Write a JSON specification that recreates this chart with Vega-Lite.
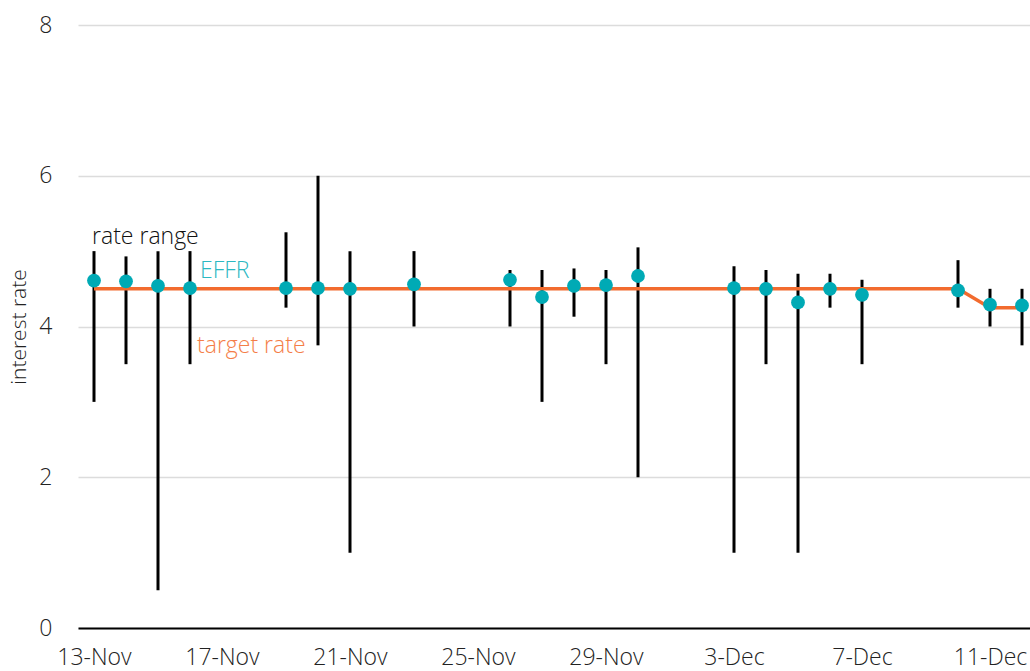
{
  "$schema": "https://vega.github.io/schema/vega-lite/v6.json",
  "autosize": {"type": "none"},
  "width": 952,
  "height": 603,
  "padding": {"left": 78, "top": 25, "right": 0, "bottom": 43},
  "background": "white",
  "config": {
    "view": {"stroke": null},
    "font": "Open Sans",
    "axis": {"labelFont": "Open Sans", "titleFont": "Open Sans", "labelColor": "#222222", "titleColor": "#222222", "labelFontWeight": 300, "titleFontWeight": 300}
  },
  "datasets": {
    "rates": [
      {"date": "2007-11-13", "low": 3.0, "high": 5.0, "effr": 4.61, "target": 4.5},
      {"date": "2007-11-14", "low": 3.5, "high": 4.93, "effr": 4.60, "target": 4.5},
      {"date": "2007-11-15", "low": 0.5, "high": 5.0, "effr": 4.54, "target": 4.5},
      {"date": "2007-11-16", "low": 3.5, "high": 5.0, "effr": 4.51, "target": 4.5},
      {"date": "2007-11-19", "low": 4.25, "high": 5.25, "effr": 4.51, "target": 4.5},
      {"date": "2007-11-20", "low": 3.75, "high": 6.0, "effr": 4.51, "target": 4.5},
      {"date": "2007-11-21", "low": 1.0, "high": 5.0, "effr": 4.50, "target": 4.5},
      {"date": "2007-11-23", "low": 4.0, "high": 5.0, "effr": 4.56, "target": 4.5},
      {"date": "2007-11-26", "low": 4.0, "high": 4.75, "effr": 4.62, "target": 4.5},
      {"date": "2007-11-27", "low": 3.0, "high": 4.75, "effr": 4.39, "target": 4.5},
      {"date": "2007-11-28", "low": 4.13, "high": 4.77, "effr": 4.54, "target": 4.5},
      {"date": "2007-11-29", "low": 3.5, "high": 4.75, "effr": 4.55, "target": 4.5},
      {"date": "2007-11-30", "low": 2.0, "high": 5.05, "effr": 4.67, "target": 4.5},
      {"date": "2007-12-03", "low": 1.0, "high": 4.8, "effr": 4.51, "target": 4.5},
      {"date": "2007-12-04", "low": 3.5, "high": 4.75, "effr": 4.50, "target": 4.5},
      {"date": "2007-12-05", "low": 1.0, "high": 4.7, "effr": 4.32, "target": 4.5},
      {"date": "2007-12-06", "low": 4.25, "high": 4.7, "effr": 4.50, "target": 4.5},
      {"date": "2007-12-07", "low": 3.5, "high": 4.62, "effr": 4.42, "target": 4.5},
      {"date": "2007-12-10", "low": 4.25, "high": 4.88, "effr": 4.48, "target": 4.5},
      {"date": "2007-12-11", "low": 4.0, "high": 4.5, "effr": 4.29, "target": 4.25},
      {"date": "2007-12-12", "low": 3.75, "high": 4.5, "effr": 4.28, "target": 4.25}
    ],
    "labels": [
      {"date": "2007-11-12T22:30:00Z", "value": 5.09, "label": "rate range", "series": "range"},
      {"date": "2007-11-16T07:30:00Z", "value": 4.64, "label": "EFFR", "series": "effr"},
      {"date": "2007-11-16T05:15:00Z", "value": 3.65, "label": "target rate", "series": "target"}
    ]
  },
  "encoding": {
    "x": {
      "field": "date",
      "type": "temporal",
      "scale": {
        "type": "utc",
        "domain": [
          {"year": 2007, "month": 11, "date": 12, "hours": 12, "utc": true},
          {"year": 2007, "month": 12, "date": 12, "hours": 6, "utc": true}
        ]
      },
      "axis": {
        "title": null,
        "labelExpr": "utcFormat(datum.value, '%-d-%b')",
        "values": [
          {"year": 2007, "month": 11, "date": 13, "utc": true},
          {"year": 2007, "month": 11, "date": 17, "utc": true},
          {"year": 2007, "month": 11, "date": 21, "utc": true},
          {"year": 2007, "month": 11, "date": 25, "utc": true},
          {"year": 2007, "month": 11, "date": 29, "utc": true},
          {"year": 2007, "month": 12, "date": 3, "utc": true},
          {"year": 2007, "month": 12, "date": 7, "utc": true},
          {"year": 2007, "month": 12, "date": 11, "utc": true}
        ],
        "grid": false,
        "ticks": false,
        "domainColor": "#000000",
        "domainWidth": 2,
        "labelFontSize": 23,
        "labelPadding": 18,
        "labelFlush": false,
        "labelOverlap": false
      }
    }
  },
  "layer": [
    {
      "data": {"name": "rates"},
      "mark": {"type": "rule", "color": "#000000", "strokeWidth": 3},
      "encoding": {
        "y": {
          "field": "low",
          "type": "quantitative",
          "scale": {"domain": [0, 8], "nice": false},
          "axis": {
            "title": "interest rate",
            "titleFontSize": 21,
            "titlePadding": 9,
            "values": [0, 2, 4, 6, 8],
            "format": "d",
            "grid": true,
            "gridColor": "#dcdcdc",
            "gridWidth": 1.5,
            "domain": false,
            "ticks": false,
            "labelFontSize": 23,
            "labelPadding": 26
          }
        },
        "y2": {"field": "high"}
      }
    },
    {
      "data": {"name": "rates"},
      "mark": {"type": "line", "color": "#F26B2E", "strokeWidth": 3.5},
      "encoding": {"y": {"field": "target", "type": "quantitative"}}
    },
    {
      "data": {"name": "rates"},
      "mark": {"type": "point", "filled": true, "color": "#00AAB5", "opacity": 1, "size": 190},
      "encoding": {"y": {"field": "effr", "type": "quantitative"}}
    },
    {
      "data": {"name": "labels"},
      "mark": {"type": "text", "align": "left", "baseline": "alphabetic", "fontSize": 23, "fontWeight": 300, "font": "Open Sans"},
      "encoding": {
        "y": {"field": "value", "type": "quantitative"},
        "text": {"field": "label"},
        "color": {
          "field": "series",
          "type": "nominal",
          "scale": {"domain": ["range", "effr", "target"], "range": ["#111111", "#2BB8C2", "#F47E48"]},
          "legend": null
        }
      }
    }
  ]
}
